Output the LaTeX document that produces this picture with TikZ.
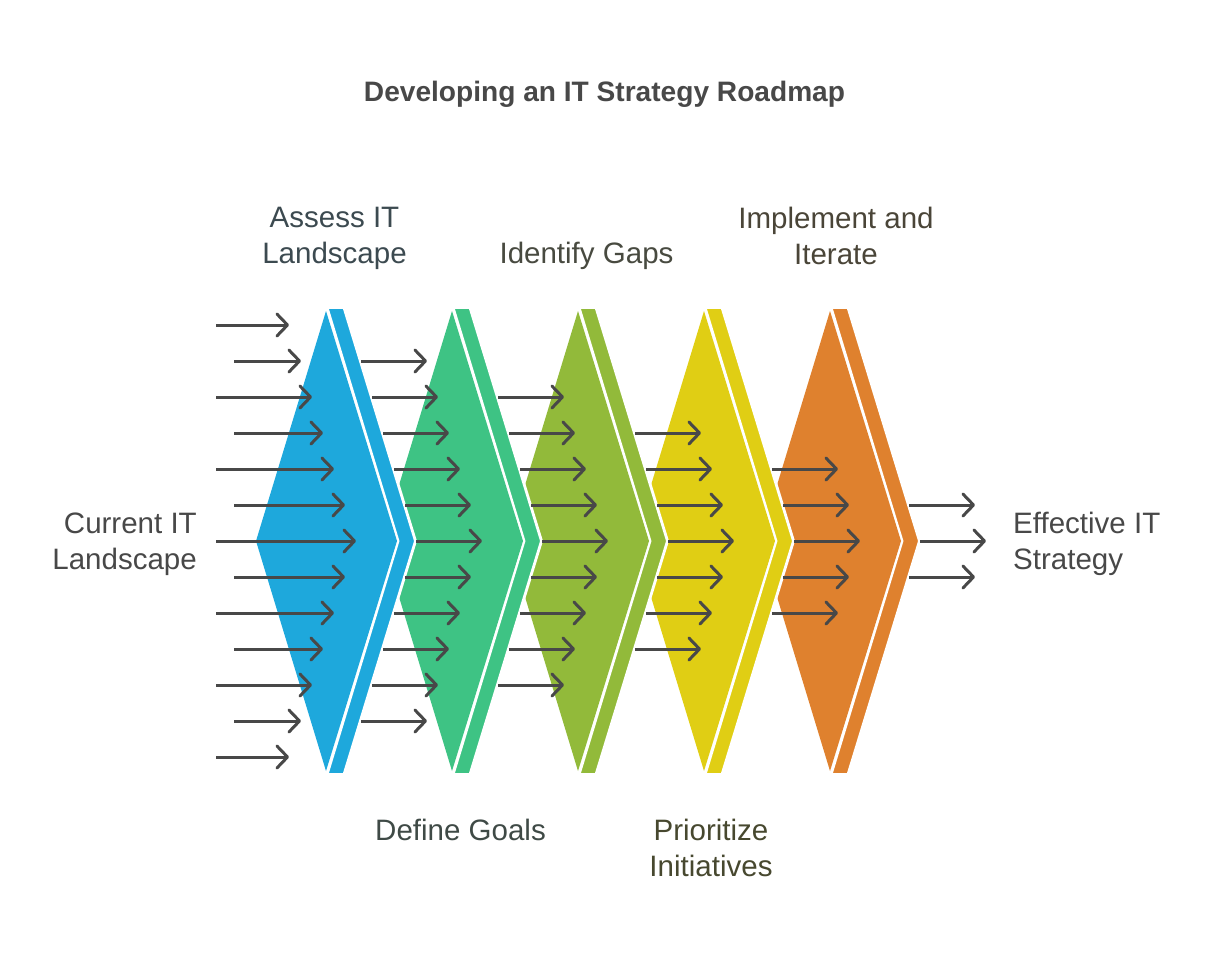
\documentclass[tikz,border=0pt]{standalone}
\usepackage{fontspec}
\setmainfont{Liberation Sans}
\usetikzlibrary{arrows.meta}

\definecolor{bluefill}{HTML}{1EA8DC}
\definecolor{greenfill}{HTML}{3EC384}
\definecolor{olivefill}{HTML}{92BA3A}
\definecolor{yellowfill}{HTML}{E0CE14}
\definecolor{orangefill}{HTML}{DF812E}
\definecolor{arrowgrey}{HTML}{484848}
\definecolor{bluetext}{HTML}{3C4A50}
\definecolor{greentext}{HTML}{3F4A46}
\definecolor{olivetext}{HTML}{484A40}
\definecolor{yellowtext}{HTML}{47482F}
\definecolor{orangetext}{HTML}{4A4538}

\tikzset{
    flow/.style={draw=arrowgrey, line width=1.7pt, -{Straight Barb[length=6pt, width=12.5pt, line width=1.7pt, round]}},
    steplabel/.style={align=center, font=\fontsize{16.8pt}{20.4pt}\selectfont, text=#1},
}

\begin{document}
\begin{tikzpicture}[x=0.02cm, y=-0.02cm]

    %% Background
    \useasboundingbox (0,0) rectangle (1209,957);

    % Chevrons, last one first so that each covers the next
    \foreach \x/\col in {504/orangefill, 378/yellowfill, 252/olivefill, 126/greenfill, 0/bluefill}
    {
    \draw[white, line width=1.6pt, fill=\col] (\x+327,307.5) -- (\x+344,307.5) -- (\x+415.5,541) -- (\x+344,774.5) -- (\x+327,774.5) -- (\x+398,541) -- cycle;
    \fill[\col] (\x+326,311) -- (\x+397,541) -- (\x+326,771) -- (\x+256,541) -- cycle;
    }

    % First bundle
    \foreach \y/\a/\b in {325/216/289, 361/234/301, 397/216/312, 433/234/323, 469/216/334, 505/234/345, 541/216/356, 577/234/345, 613/216/334, 649/234/323, 685/216/312, 721/234/301, 757/216/289}
    {
    \draw[flow] (\a,\y) -- (\b,\y);
    }

    % Bundles between the chevrons
    \foreach \s/\n in {0/5, 137/4, 274/3, 411/2}
    {
    \foreach \k in {0,...,\n}
    {
    \draw[flow] (\s+361+\k*11,541-\n*36+\k*36) -- (\s+427+\k*11,541-\n*36+\k*36);
    }
    \pgfmathtruncatemacro{\m}{\n-1}
    \foreach \k in {0,...,\m}
    {
    \draw[flow] (\s+361+\k*11,541+\n*36-\k*36) -- (\s+427+\k*11,541+\n*36-\k*36);
    }
    }

    % Last bundle
    \draw[flow] (909,505) -- (975,505);
    \draw[flow] (920,541) -- (986,541);
    \draw[flow] (909,577) -- (975,577);

    % Labels
    \node[font=\fontsize{16pt}{18pt}\selectfont\bfseries, text=arrowgrey] (title) at (604.5,94) {Developing an IT Strategy Roadmap};
    \node[steplabel=bluetext] (assess) at (334.5,238) {Assess IT\\Landscape};
    \node[steplabel=olivetext] (gaps) at (586.5,256) {Identify Gaps};
    \node[steplabel=orangetext] (implement) at (836,236) {Implement and\\Iterate};
    \node[steplabel=greentext] (goals) at (460.5,830) {Define Goals};
    \node[steplabel=yellowtext] (prioritize) at (711,848) {Prioritize\\Initiatives};
    \node[steplabel=arrowgrey, align=right, anchor=east] (current) at (203,544) {Current IT\\Landscape};
    \node[steplabel=arrowgrey, align=left, anchor=west] (effective) at (1007,544) {Effective IT\\Strategy};

\end{tikzpicture}
\end{document}
